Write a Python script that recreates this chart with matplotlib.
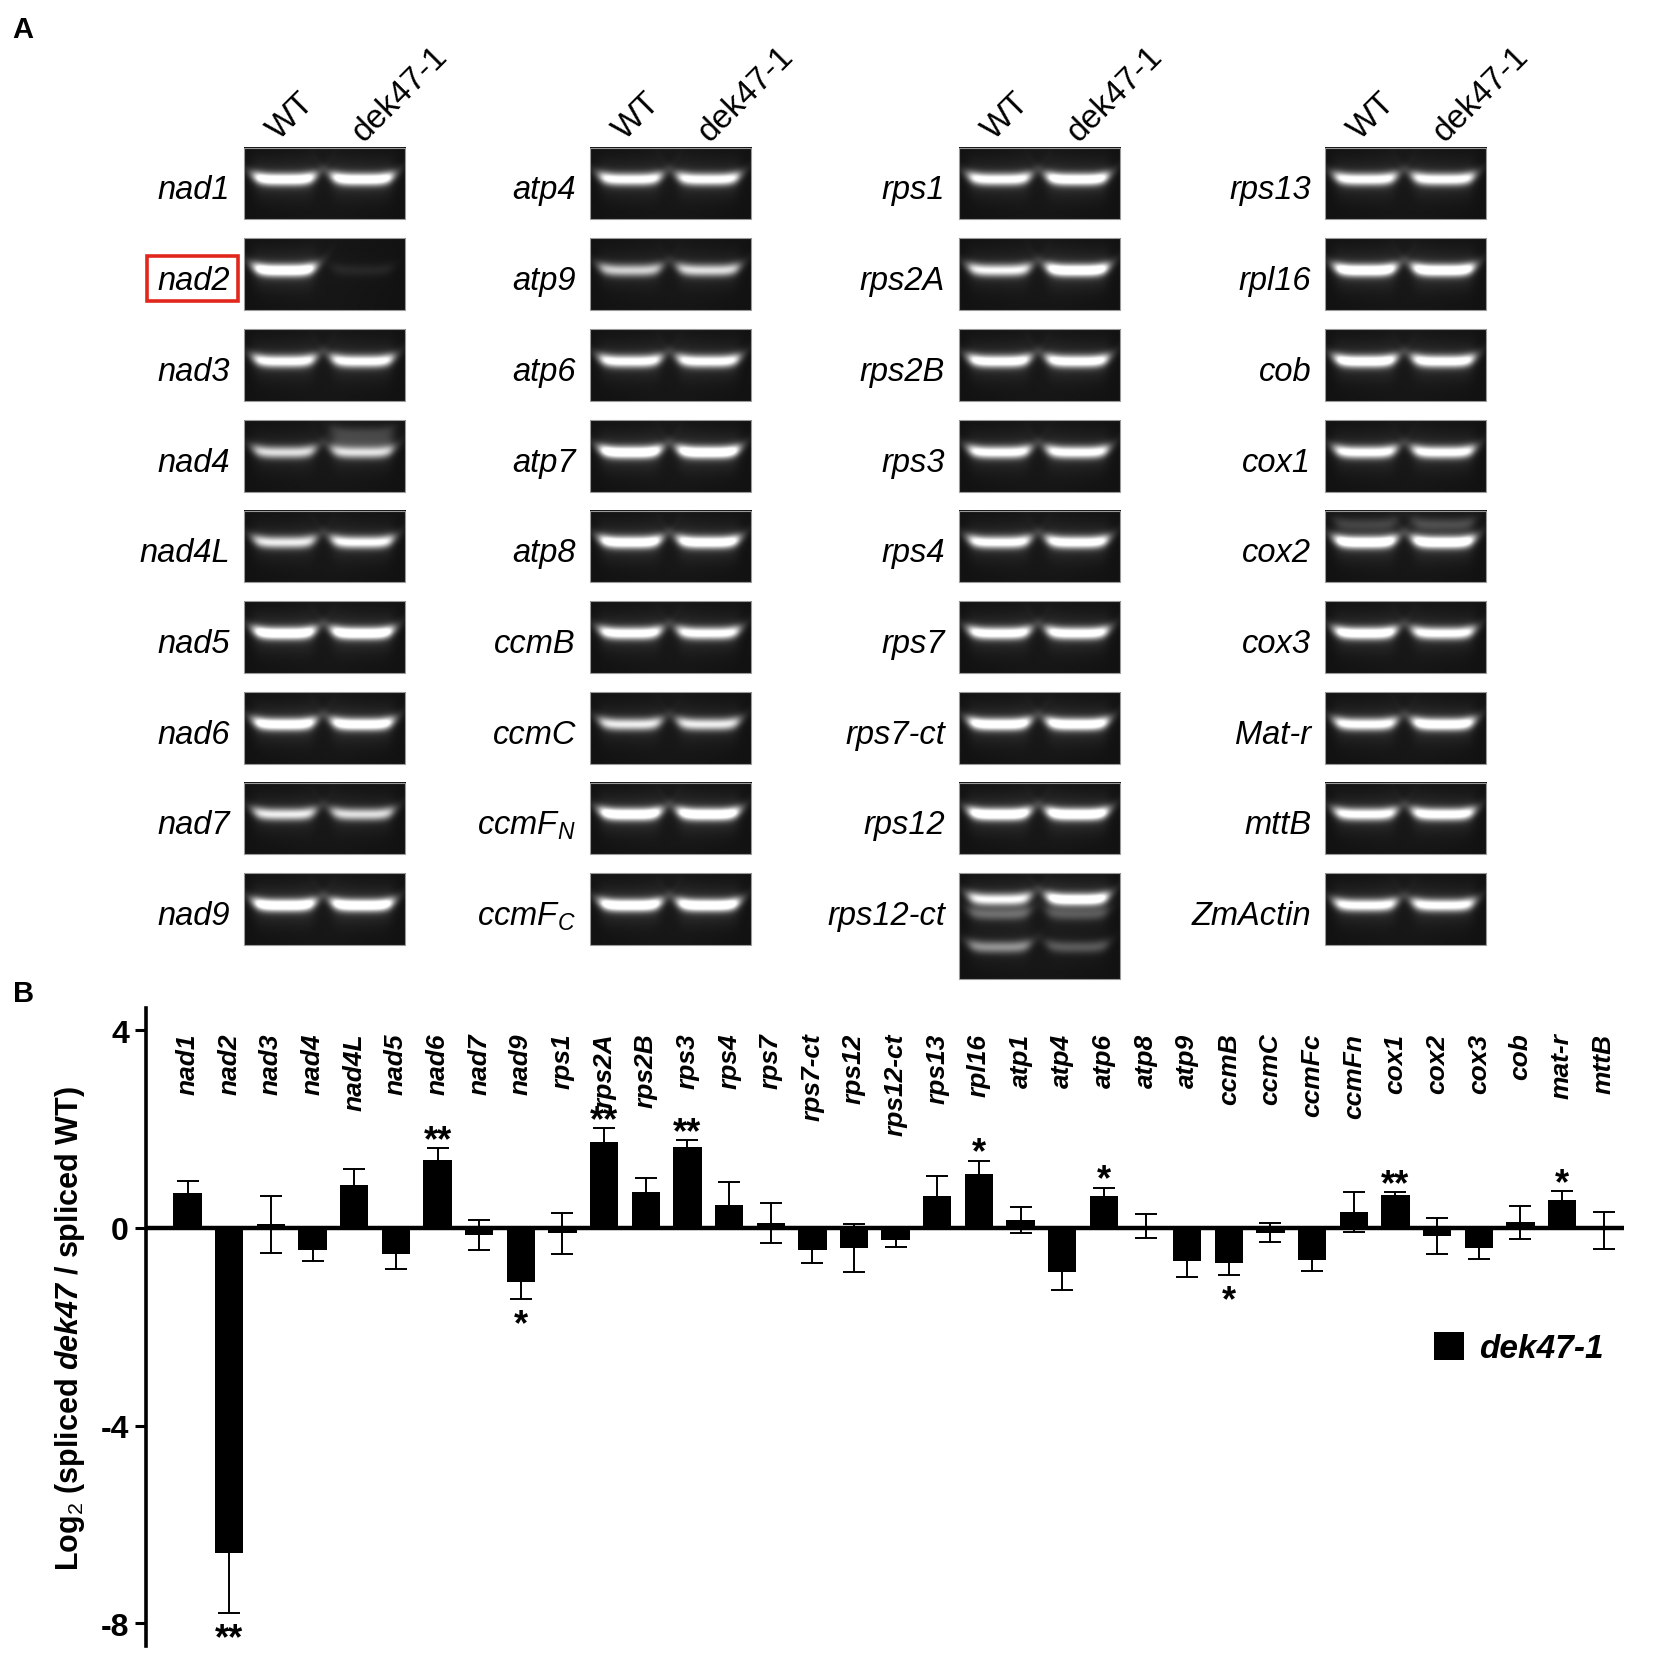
import numpy as np
import matplotlib.pyplot as plt
import matplotlib as mpl
from matplotlib.patches import Rectangle

plt.rcParams["font.family"] = ["Liberation Sans", "DejaVu Sans"]
plt.rcParams["mathtext.fontset"] = "custom"
plt.rcParams["mathtext.rm"] = "Liberation Sans"
plt.rcParams["mathtext.it"] = "Liberation Sans:italic"
plt.rcParams["mathtext.bf"] = "Liberation Sans:bold"
plt.rcParams["mathtext.bfit"] = "Liberation Sans:bold:italic"

# ------------------------------------------------------------
# Panel A : RT-PCR gels (band intensity WT, dek47-1)
# ------------------------------------------------------------
gel_genes = [
    ["nad1", "nad2", "nad3", "nad4", "nad4L", "nad5", "nad6", "nad7", "nad9"],
    ["atp4", "atp9", "atp6", "atp7", "atp8", "ccmB", "ccmC", r"ccmF$_{N}$", r"ccmF$_{C}$"],
    ["rps1", "rps2A", "rps2B", "rps3", "rps4", "rps7", "rps7-ct", "rps12", "rps12-ct"],
    ["rps13", "rpl16", "cob", "cox1", "cox2", "cox3", "Mat-r", "mttB", "ZmActin"],
]
wt_int = [
    [0.95, 1.00, 0.85, 0.65, 0.70, 1.00, 0.95, 0.70, 1.00],
    [0.85, 0.60, 0.85, 1.00, 0.95, 0.90, 0.70, 1.00, 1.00],
    [0.85, 0.75, 0.90, 0.85, 0.85, 0.90, 0.95, 1.00, 0.75],
    [0.85, 1.00, 0.95, 0.85, 1.00, 0.95, 0.85, 0.85, 0.85],
]
dek_int = [
    [0.95, 0.06, 0.85, 0.65, 0.80, 1.00, 0.95, 0.65, 1.00],
    [0.85, 0.65, 0.85, 1.00, 0.95, 0.85, 0.70, 1.00, 1.00],
    [0.95, 1.00, 0.90, 0.85, 0.90, 0.90, 0.95, 1.00, 0.95],
    [0.85, 1.00, 0.90, 0.85, 1.00, 0.85, 0.95, 0.90, 0.85],
]
# extra minor bands: (column, row, lane, y fraction, intensity)
extra_bands = [
    (0, 3, 1, 0.18, 0.12),
    (0, 3, 1, 0.30, 0.10),
    (2, 8, 0, 0.39, 0.25),
    (2, 8, 1, 0.39, 0.18),
    (2, 8, 0, 0.70, 0.40),
    (2, 8, 1, 0.70, 0.22),
    (3, 4, 0, 0.20, 0.12),
    (3, 4, 1, 0.20, 0.15),
]

# ------------------------------------------------------------
# Panel B : log2 ratio of spliced transcripts
# ------------------------------------------------------------
genes = ["nad1", "nad2", "nad3", "nad4", "nad4L", "nad5", "nad6", "nad7", "nad9",
         "rps1", "rps2A", "rps2B", "rps3", "rps4", "rps7", "rps7-ct", "rps12",
         "rps12-ct", "rps13", "rpl16", "atp1", "atp4", "atp6", "atp8", "atp9",
         "ccmB", "ccmC", "ccmFc", "ccmFn", "cox1", "cox2", "cox3", "cob",
         "mat-r", "mttB"]
values = [0.70, -6.58, 0.07, -0.45, 0.86, -0.54, 1.37, -0.15, -1.09,
          -0.11, 1.73, 0.72, 1.63, 0.46, 0.10, -0.45, -0.41,
          -0.24, 0.64, 1.08, 0.16, -0.90, 0.64, 0.03, -0.68,
          -0.71, -0.10, -0.66, 0.32, 0.66, -0.17, -0.41, 0.11,
          0.57, -0.05]
errors = [0.24, 1.22, 0.57, 0.22, 0.33, 0.29, 0.24, 0.30, 0.36,
          0.41, 0.29, 0.28, 0.15, 0.46, 0.40, 0.27, 0.49,
          0.15, 0.41, 0.28, 0.27, 0.35, 0.17, 0.24, 0.31,
          0.25, 0.19, 0.21, 0.40, 0.06, 0.37, 0.23, 0.34,
          0.17, 0.37]
stars = ["", "**", "", "", "", "", "**", "", "*",
         "", "**", "", "**", "", "", "", "",
         "", "", "*", "", "", "*", "", "",
         "*", "", "", "", "**", "", "", "",
         "*", ""]

W, H = 1568.0, 1572.0   # layout reference frame

fig = plt.figure(figsize=(16.54, 16.58), dpi=100)
ax0 = fig.add_axes([0, 0, 1, 1])
ax0.set_xlim(0, W)
ax0.set_ylim(H, 0)
ax0.axis("off")

col_left = [231, 559, 909, 1256]
gel_w = 153
row_top0 = 141
row_pitch = 86
gel_h = 68


def make_gel(h, w, bands):
    ny, nx = int(h * 2), int(w * 2)
    u = (np.arange(nx) + 0.5) / nx
    v = (np.arange(ny) + 0.5) / ny
    U, V = np.meshgrid(u, v)
    img = np.full((ny, nx), 0.07)
    img += 0.02 * (1 - np.abs(U - 0.5) * 2)
    s = 0.06 * 68.0 / h
    for uc, vc, inten in bands:
        dx = (U - uc) / 0.19
        horiz = 1.0 / (1.0 + dx ** 10)
        vcen = vc - 0.05 * (68.0 / h) * dx ** 4
        core = np.exp(-0.5 * ((V - vcen) / s) ** 2)
        glow = np.exp(-0.5 * ((V - vcen) / (3 * s)) ** 2)
        img += inten * horiz * (1.1 * core + 0.12 * glow)
    return np.clip(img, 0, 1)


for c in range(4):
    x0 = col_left[c]
    for r in range(9):
        y0 = row_top0 + r * row_pitch
        h = 100 if (c == 2 and r == 8) else gel_h
        vfrac = 0.45 if not (c == 2 and r == 8) else 0.25
        bands = [(0.25, vfrac, wt_int[c][r]), (0.73, vfrac, dek_int[c][r])]
        for ec, er, lane, yf, it in extra_bands:
            if ec == c and er == r:
                bands.append(([0.25, 0.73][lane], yf, it))
        img = make_gel(h, gel_w, bands)
        ax0.imshow(img, cmap="gray", vmin=0, vmax=1, extent=(x0, x0 + gel_w, y0 + h, y0),
                   aspect="auto", interpolation="bilinear", zorder=1)
        ax0.add_patch(Rectangle((x0, y0), gel_w, h, fill=False, edgecolor="#9a9a9a",
                                linewidth=0.8, zorder=2))
        ax0.text(x0 - 13, y0 + 40, gel_genes[c][r], ha="right", va="center",
                 fontsize=23.5, style="italic", zorder=3)
    ax0.text(x0 + 38, 138, "WT", rotation=45, rotation_mode="anchor",
             ha="left", va="bottom", fontsize=24)
    ax0.text(x0 + 118, 140, "dek47-1", rotation=45, rotation_mode="anchor",
             ha="left", va="bottom", fontsize=24)

# red box around nad2
ax0.add_patch(Rectangle((139, 244), 87, 42, fill=False, edgecolor="#e1261c",
                        linewidth=2.6, zorder=4))

ax0.text(12, 28, "A", fontsize=21, fontweight="bold", va="center", ha="left")
ax0.text(12, 942, "B", fontsize=21, fontweight="bold", va="center", ha="left")

# ------------------------------------------------------------
# Panel B axes
# ------------------------------------------------------------
left, right, top, bottom = 138, 1540, 957, 1562
ax = fig.add_axes([left / W, 1 - bottom / H, (right - left) / W, (bottom - top) / H])
ax.patch.set_alpha(0)

x = np.arange(len(genes))
ax.bar(x, values, width=0.68, color="black", zorder=3)
ax.errorbar(x, values, yerr=errors, fmt="none", ecolor="black", elinewidth=1.4,
            capsize=8, capthick=1.4, zorder=2)
ax.axhline(0, color="black", linewidth=3.2, zorder=4)

ax.set_xlim(-1.01, 34.5)
ax.set_ylim(-8.47, 4.44)
ax.set_yticks([4, 0, -4, -8])
ax.set_yticklabels(["4", "0", "-4", "-8"], fontsize=23, fontweight="bold")
ax.tick_params(axis="y", direction="out", length=8, width=2.2, pad=4)
ax.set_xticks([])
for sp in ["top", "right", "bottom"]:
    ax.spines[sp].set_visible(False)
ax.spines["left"].set_linewidth(2.6)

for i, g in enumerate(genes):
    ax.text(i, 3.95, g, rotation=90, ha="center", va="top", fontsize=19,
            fontweight="bold", style="italic")

for i, s in enumerate(stars):
    if not s:
        continue
    if values[i] >= 0:
        yy = values[i] + errors[i] - 0.2
    else:
        yy = values[i] - errors[i] - 0.86
    ax.text(i, yy, s, ha="center", va="bottom", fontsize=26, fontweight="bold", zorder=5)

ax.set_ylabel(r"Log$_{\mathrm{2}}$ (spliced $\mathbfit{dek47}$ / spliced WT)",
              fontsize=22, fontweight="bold", labelpad=10)

ax.bar([0], [0], color="black", label="dek47-1")
leg = ax.legend(loc="upper left", bbox_to_anchor=(0.851, 0.54), frameon=False,
                prop={"size": 24, "weight": "bold", "style": "italic"},
                handlelength=0.9, handleheight=0.9, handletextpad=0.45)

fig.savefig("out.png", dpi=100)
